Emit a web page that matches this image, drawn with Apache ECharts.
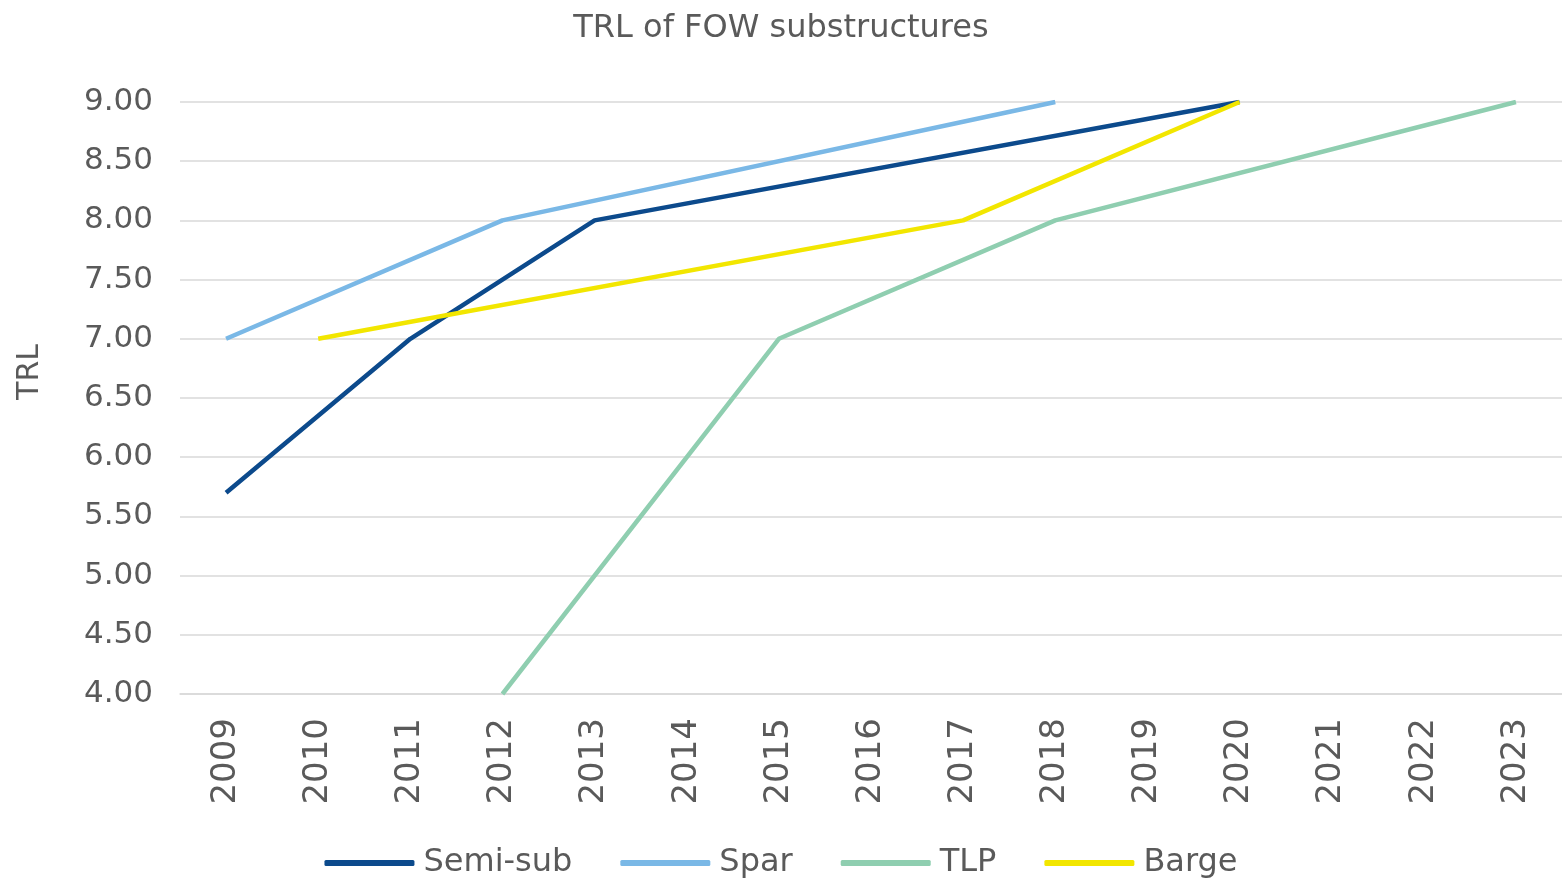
<!DOCTYPE html>
<html>
<head>
<meta charset="utf-8">
<script src="https://cdn.jsdelivr.net/npm/echarts@6/dist/echarts.min.js"></script>
<style>
  html, body { margin: 0; padding: 0; background: #ffffff; }
  #chart { width: 1562px; height: 893px; }
</style>
</head>
<body>
<div id="chart"></div>
<script>
// Years on the category axis
const years = ['2009','2010','2011','2012','2013','2014','2015','2016','2017','2018','2019','2020','2021','2022','2023'];

// TRL milestones per substructure type (null = no milestone that year)
const semiSub = [5.7, null, 7.0, null, 8.0, null, null, null, null, null, null, 9.0, null, null, null];
const spar    = [7.0, null, null, 8.0, null, null, null, null, null, 9.0, null, null, null, null, null];
const tlp     = [null, null, null, 4.0, null, null, 7.0, null, null, 8.0, null, null, null, null, 9.0];
const barge   = [null, 7.0, null, null, null, null, null, null, 8.0, null, null, 9.0, null, null, null];

const seriesNames = ['Semi-sub', 'Spar', 'TLP', 'Barge'];
const seriesColors = ['#0c4a8c', '#7ab8e6', '#8fceb0', '#f2e600'];
const seriesData = [semiSub, spar, tlp, barge];

const textColor = '#5a5a5a';
const fontFamily = '"DejaVu Sans", sans-serif';

const chart = echarts.init(document.getElementById('chart'), null, { renderer: 'canvas' });

chart.setOption({
  backgroundColor: '#ffffff',
  animation: false,
  textStyle: { fontFamily: fontFamily, color: textColor },
  title: {
    text: 'TRL of FOW substructures',
    left: 'center',
    top: 8,
    textStyle: { fontFamily: fontFamily, fontSize: 32, fontWeight: 'normal', color: textColor }
  },
  legend: {
    bottom: 9,
    left: 'center',
    icon: 'roundRect',
    itemWidth: 90,
    itemHeight: 6,
    itemGap: 48,
    textStyle: { fontFamily: fontFamily, fontSize: 32, color: textColor, padding: [0, 0, 0, 4] },
    data: seriesNames
  },
  grid: {
    left: 180,
    top: 102,
    right: -8,
    height: 592,
    containLabel: false
  },
  xAxis: {
    type: 'category',
    data: years,
    boundaryGap: true,
    axisLine: { show: true, lineStyle: { color: '#d9d9d9', width: 1.5 } },
    axisTick: { show: false },
    axisLabel: {
      rotate: 90,
      margin: 24,
      fontFamily: fontFamily,
      fontSize: 34,
      color: textColor
    }
  },
  yAxis: {
    type: 'value',
    min: 4,
    max: 9,
    interval: 0.5,
    name: 'TRL',
    nameLocation: 'middle',
    nameGap: 135,
    nameRotate: 90,
    nameTextStyle: { fontFamily: fontFamily, fontSize: 30, color: textColor, padding: [0, 0, 0, 52] },
    axisLine: { show: false },
    axisTick: { show: false },
    axisLabel: {
      margin: 27,
      fontFamily: fontFamily,
      fontSize: 31,
      color: textColor,
      formatter: v => v.toFixed(2)
    },
    splitLine: { lineStyle: { color: '#d9d9d9', width: 1.5 } }
  },
  series: seriesNames.map((name, i) => ({
    name: name,
    type: 'line',
    data: seriesData[i],
    connectNulls: true,
    showSymbol: false,
    symbol: 'none',
    itemStyle: { color: seriesColors[i] },
    lineStyle: { color: seriesColors[i], width: 4.5 }
  }))
});
</script>
</body>
</html>
